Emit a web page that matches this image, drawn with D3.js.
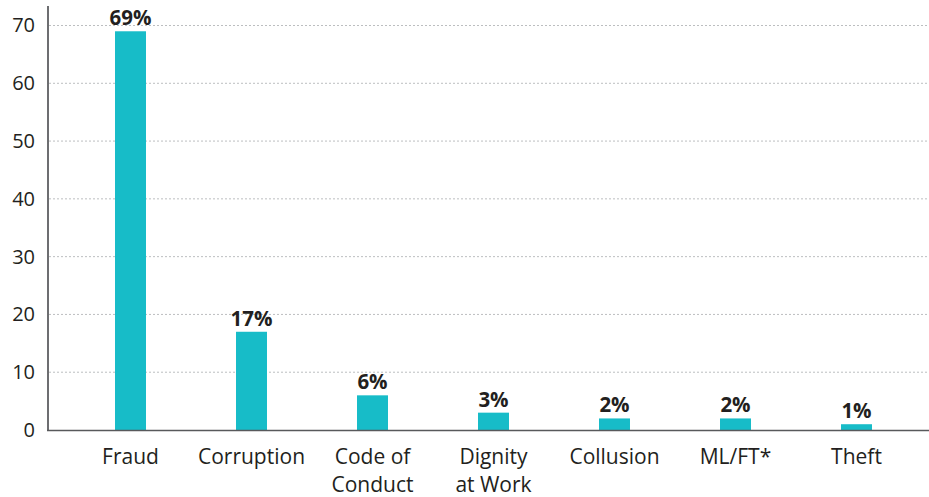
<!DOCTYPE html>
<html>
<head>
<meta charset="utf-8">
<script src="https://cdn.jsdelivr.net/npm/d3@7"></script>
<style>
  body { margin: 0; background: #fff; }
  svg text { font-family: "Open Sans", "Noto Sans", sans-serif; fill: #231f20; }
</style>
</head>
<body>
<div id="chart"></div>
<script>
// Data
const categories = ["Fraud", "Corruption", "Code of\nConduct", "Dignity\nat Work", "Collusion", "ML/FT*", "Theft"];
const values = [69, 17, 6, 3, 2, 2, 1];
const yTicks = [0, 10, 20, 30, 40, 50, 60, 70];

const width = 929, height = 497;

const svg = d3.select("#chart")
    .append("svg")
    .attr("width", width)
    .attr("height", height);

const x = d3.scaleBand()
    .domain(categories)
    .range([70, 917])
    .paddingInner(0.744)
    .paddingOuter(0.372);

const y = d3.scaleLinear()
    .domain([0, 70])
    .range([430, 25.5]);

// Gridlines
svg.append("g")
    .selectAll("line")
    .data(yTicks.filter(d => d > 0))
    .enter()
    .append("line")
    .attr("x1", 49)
    .attr("x2", width)
    .attr("y1", d => y(d))
    .attr("y2", d => y(d))
    .attr("stroke", "#bcbec0")
    .attr("stroke-width", 1)
    .attr("stroke-dasharray", "2,2");

// Y axis
const yAxis = svg.append("g")
    .attr("transform", "translate(48,0)")
    .call(d3.axisLeft(y).tickValues(yTicks).tickSize(0).tickPadding(13));
yAxis.select(".domain").remove();
yAxis.selectAll("text")
    .attr("font-size", 20)
    .attr("fill", "#231f20")
    .style("font-family", "\"Open Sans\", sans-serif");

svg.append("line")
    .attr("x1", 48).attr("x2", 48)
    .attr("y1", 6).attr("y2", 431)
    .attr("stroke", "#6d6e71")
    .attr("stroke-width", 2);

// Bars
svg.selectAll("rect.bar")
    .data(values)
    .enter()
    .append("rect")
    .attr("class", "bar")
    .attr("x", (d, i) => x(categories[i]))
    .attr("y", d => y(d))
    .attr("width", x.bandwidth())
    .attr("height", d => y(0) - y(d))
    .attr("fill", "#17bcc8");

// X axis baseline
svg.append("line")
    .attr("x1", 47).attr("x2", width)
    .attr("y1", y(0) + 0.5).attr("y2", y(0) + 0.5)
    .attr("stroke", "#58595b")
    .attr("stroke-width", 1.5);

// Value labels
svg.selectAll("text.value")
    .data(values)
    .enter()
    .append("text")
    .attr("class", "value")
    .attr("x", (d, i) => x(categories[i]) + x.bandwidth() / 2)
    .attr("y", d => y(d) - 6)
    .attr("text-anchor", "middle")
    .attr("font-size", 20.5)
    .attr("font-weight", "bold")
    .text(d => d + "%");

// Category labels
const cat = svg.selectAll("text.cat")
    .data(categories)
    .enter()
    .append("text")
    .attr("class", "cat")
    .attr("x", d => x(d) + x.bandwidth() / 2)
    .attr("y", 464)
    .attr("text-anchor", "middle")
    .attr("font-size", 21);

cat.selectAll("tspan")
    .data(d => d.split("\n"))
    .enter()
    .append("tspan")
    .attr("x", function () { return d3.select(this.parentNode).attr("x"); })
    .attr("dy", (d, i) => i === 0 ? 0 : 28)
    .text(d => d);
</script>
</body>
</html>
